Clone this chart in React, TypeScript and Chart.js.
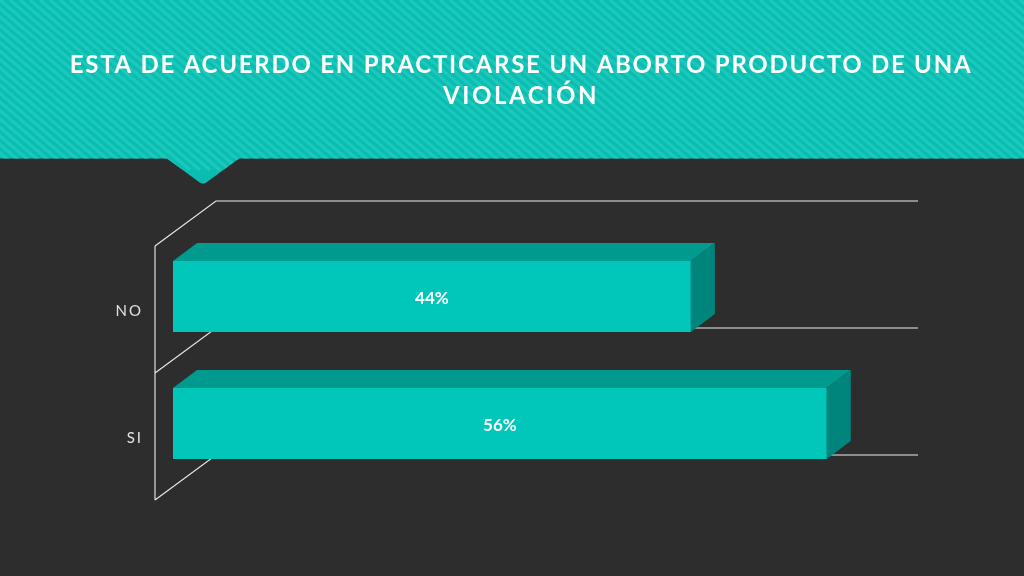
import React, { useEffect, useRef } from "react";
import { Chart, registerables } from "chart.js";

Chart.register(...registerables);

const titleLines = ["ESTA DE ACUERDO EN PRACTICARSE UN ABORTO PRODUCTO DE UNA", "VIOLACIÓN"];
const categories = ["NO", "SI"];
const shares = [44.2, 55.8];
const shownLabels = ["44%", "56%"];

const BG = "#2D2D2D";
const FRONT = "#00C7BA";
const TOP = "#009A8E";
const SIDE = "#00857C";
const DX = 24;
const DY = 18;

const scenePlugin = {
  id: "scene",
  beforeDraw(chart: any) {
    const { ctx, width } = chart;
    ctx.save();
    ctx.fillStyle = BG;
    ctx.fillRect(0, 0, width, chart.height);
    ctx.beginPath();
    ctx.moveTo(0, 0);
    ctx.lineTo(width, 0);
    ctx.lineTo(width, 158.5);
    ctx.lineTo(239, 158.5);
    ctx.lineTo(207, 182);
    ctx.quadraticCurveTo(203, 185, 199, 182);
    ctx.lineTo(167, 158.5);
    ctx.lineTo(0, 158.5);
    ctx.closePath();
    ctx.clip();
    ctx.fillStyle = "#0ABDB0";
    ctx.fillRect(0, 0, width, 190);
    ctx.strokeStyle = "#1AC8BC";
    ctx.lineWidth = 3.4;
    for (let s = -200; s < width + 200; s += 10) {
      ctx.beginPath();
      ctx.moveTo(s, 0);
      ctx.lineTo(s + 200, 170);
      ctx.stroke();
    }
    ctx.restore();

    ctx.save();
    ctx.fillStyle = "#FFFFFF";
    ctx.font = "700 24px Lato";
    ctx.textAlign = "center";
    (ctx as any).letterSpacing = "1.75px";
    ctx.fillText(titleLines[0], 521, 72.5);
    (ctx as any).letterSpacing = "2.6px";
    ctx.fillText(titleLines[1], 521, 103.5);
    ctx.restore();

    (ctx as any).letterSpacing = "2px";
  },
  beforeDatasetsDraw(chart: any) {
    const { ctx, scales } = chart;
    (ctx as any).letterSpacing = "0px";
    const y = scales.y;
    const band = y.getPixelForValue(1) - y.getPixelForValue(0);
    const edges = [
      y.getPixelForValue(0) - band / 2,
      y.getPixelForValue(0) + band / 2,
      y.getPixelForValue(1) + band / 2,
    ];
    const wallFront = 155;
    const wallBack = 216;
    const gridEnd = 918;
    ctx.save();
    ctx.strokeStyle = "#EDEDED";
    ctx.lineWidth = 1.1;
    ctx.beginPath();
    ctx.moveTo(wallFront, edges[0] + 13);
    ctx.lineTo(wallFront, edges[2] + 13);
    edges.forEach((e) => {
      ctx.moveTo(wallFront, e + 13);
      ctx.lineTo(wallBack, e - 32);
      ctx.lineTo(gridEnd, e - 32);
    });
    ctx.stroke();
    ctx.restore();
  },
  afterDatasetsDraw(chart: any) {
    const { ctx } = chart;
    chart.getDatasetMeta(0).data.forEach((bar: any, i: number) => {
      const x0 = bar.base;
      const x1 = bar.x;
      const top = bar.y - bar.height / 2;
      const bottom = bar.y + bar.height / 2;
      ctx.save();
      ctx.fillStyle = TOP;
      ctx.beginPath();
      ctx.moveTo(x0, top);
      ctx.lineTo(x0 + DX, top - DY);
      ctx.lineTo(x1 + DX, top - DY);
      ctx.lineTo(x1, top);
      ctx.closePath();
      ctx.fill();
      ctx.fillStyle = SIDE;
      ctx.beginPath();
      ctx.moveTo(x1, top);
      ctx.lineTo(x1 + DX, top - DY);
      ctx.lineTo(x1 + DX, bottom - DY);
      ctx.lineTo(x1, bottom);
      ctx.closePath();
      ctx.fill();
      ctx.fillStyle = "#FFFFFF";
      ctx.font = "700 17px Lato";
      ctx.textAlign = "center";
      ctx.textBaseline = "middle";
      ctx.fillText(shownLabels[i], (x0 + x1) / 2, bar.y + 2.5);
      ctx.restore();
    });
  },
};

export default function App() {
  const ref = useRef<HTMLCanvasElement>(null);
  useEffect(() => {
    document.body.style.margin = "0";
    const chart = new Chart(ref.current!, {
      type: "bar",
      data: {
        labels: categories,
        datasets: [
          {
            data: shares,
            backgroundColor: FRONT,
            barPercentage: 0.559,
            categoryPercentage: 1,
          },
        ],
      },
      options: {
        indexAxis: "y",
        animation: false,
        responsive: false,
        layout: { padding: { top: 233, bottom: 89, right: 148, left: 0 } },
        plugins: { legend: { display: false }, title: { display: false }, tooltip: { enabled: false } },
        scales: {
          x: { display: false, min: 0, max: 60 },
          y: {
            afterFit: (s: any) => {
              s.width = 173;
            },
            grid: { display: false, drawTicks: false },
            border: { display: false },
            ticks: {
              color: "#E2E2E2",
              padding: 30,
              labelOffset: 15,
              font: { family: "Lato", size: 15, weight: 400 },
            },
          },
        },
      },
      plugins: [scenePlugin],
    } as any);
    return () => chart.destroy();
  }, []);
  return <canvas ref={ref} width={1024} height={576} style={{ display: "block" }} />;
}
